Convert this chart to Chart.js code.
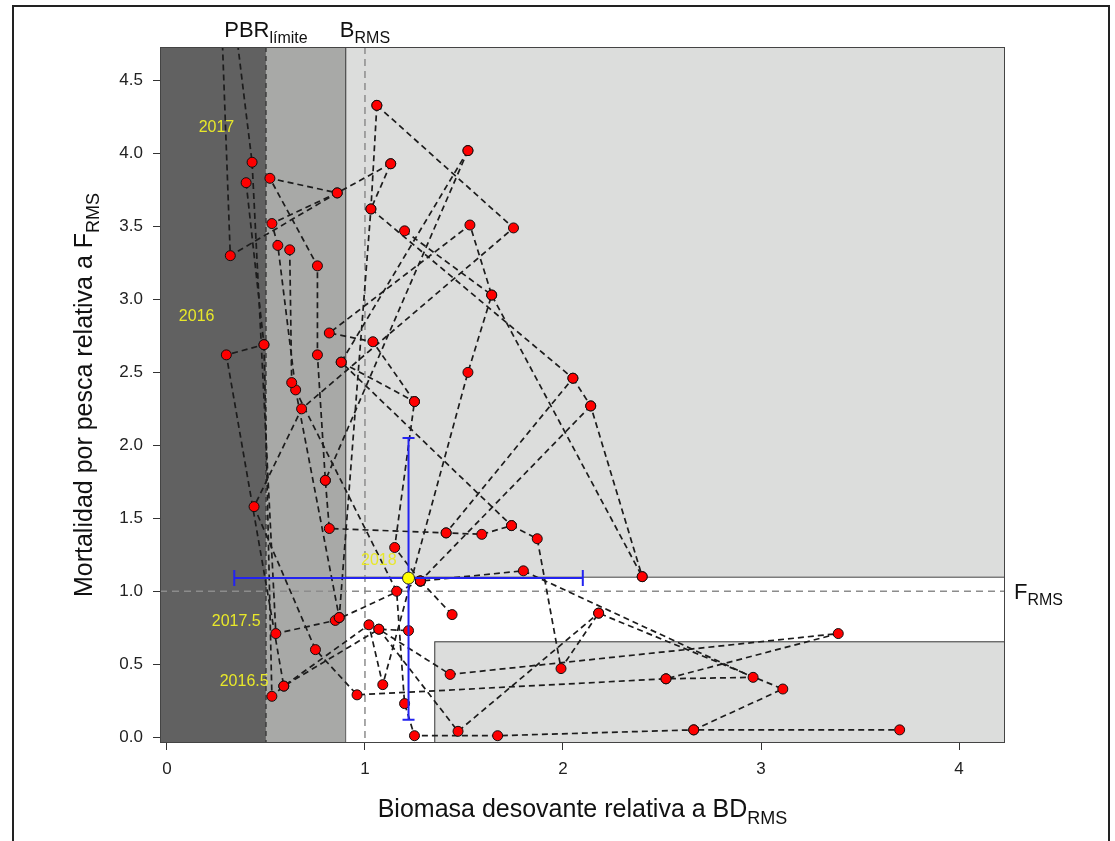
<!DOCTYPE html>
<html>
<head>
<meta charset="utf-8">
<script src="https://cdn.jsdelivr.net/npm/chart.js@4.4.1/dist/chart.umd.min.js"></script>
<style>
  body{margin:0;background:#fff;}
  canvas{display:block;}
</style>
</head>
<body>
<canvas id="my_canvas" width="1115" height="841"></canvas>
<script>
// trajectories, null = break between pieces of the path
const pathX = [0.26,0.32,0.86,0.52,0.76,0.76,0.80,0.82,1.41,1.59,1.74,1.87,1.99,2.18,3.11,2.66,3.70, null,
  0.29,0.43,0.55,0.85,1.28, null,
  0.40,0.49,0.30,0.59,1.02,1.09,1.52,1.64,2.40, null,
  1.13,0.86,0.53,0.56,0.65,0.87, null,
  1.06,1.03,0.87, null,
  1.06,1.75,0.68,0.44,0.75,0.96,2.52,3.39,1.43,1.07,1.47,2.18, null,
  1.52,0.88,1.74, null,
  1.20,1.64,1.53,0.82,1.04,1.25,1.15,1.28, null,
  1.13,1.03,2.05,1.41, null,
  2.05,2.14,2.40, null,
  0.62,0.63,1.16,1.20,1.25,1.67,2.66, null,
  0.49,0.53,0.59,1.07,1.22, null,
  1.44,1.28,1.80,2.96,2.52, null,
  1.52,0.80, null,
  0.88,1.25, null,
  2.14,1.28];
const pathY = [5.50,3.30,3.73,3.83,3.23,2.62,1.76,1.43,1.40,1.39,1.45,1.36,0.47,0.85,0.33,0.05,0.05, null,
  5.50,3.94,0.71,0.80,1.07, null,
  3.80,2.69,2.62,0.35,0.77,0.36,2.50,3.03,1.10, null,
  3.93,3.73,3.52,3.37,2.38,0.82, null,
  4.33,3.62,0.82, null,
  4.33,3.49,2.25,1.58,0.60,0.29,0.40,0.71,0.43,0.74,0.04,0.85, null,
  4.02,2.57,1.45, null,
  3.47,3.03,3.51,2.77,2.71,2.30,1.30,1.07, null,
  3.93,3.62,2.46,1.40, null,
  2.46,2.27,1.10, null,
  3.34,2.43,1.00,0.23,0.01,0.01,0.05, null,
  2.69,0.28,0.35,0.74,0.73, null,
  0.84,1.07,1.14,0.41,0.40, null,
  4.02,1.76, null,
  2.57,2.30, null,
  2.27,1.07];

// last estimate with its intervals
const estX = [1.22];
const estY = [1.09];
const estXlim = [0.34, 2.10];
const estYlim = [0.12, 2.05];

// reference points
const pbrLimit = 0.5;
const bRms = 1.0;
const fRms = 1.0;
const zoneB = 0.9;
const zoneF = 1.1;
const lowBoxB = 1.35;
const lowBoxF = 0.657;

const xTicks = [0,1,2,3,4];
const yTicks = [0,0.5,1,1.5,2,2.5,3,3.5,4,4.5];

const yearLabels = ['2017','2016','2018','2017.5','2016.5'];
const yearX = [0.25,0.15,1.07,0.35,0.39];
const yearY = [4.18,2.88,1.21,0.79,0.38];

const FONT = '"Liberation Sans", Arial, sans-serif';

function subText(ctx, main, sub, x, y, size, subSize, align){
  ctx.font = size + 'px ' + FONT;
  const w1 = ctx.measureText(main).width;
  ctx.font = subSize + 'px ' + FONT;
  const w2 = ctx.measureText(sub).width;
  let x0 = x;
  if(align === 'center') x0 = x - (w1 + w2) / 2;
  ctx.textAlign = 'left';
  ctx.textBaseline = 'alphabetic';
  ctx.font = size + 'px ' + FONT;
  ctx.fillText(main, x0, y);
  ctx.font = subSize + 'px ' + FONT;
  ctx.fillText(sub, x0 + w1, y + size * 0.28);
}

const zonePlugin = {
  id:'zones',
  beforeDraw(chart){
    const ctx = chart.ctx;
    ctx.save();
    ctx.fillStyle = '#fff';
    ctx.fillRect(0,0,chart.width,chart.height);
    ctx.strokeStyle = '#222';
    ctx.lineWidth = 2;
    ctx.strokeRect(13,6,1096,860);
    ctx.restore();
  },
  beforeDatasetsDraw(chart){
    const ctx = chart.ctx;
    const a = chart.chartArea;
    const xs = chart.scales.x, ys = chart.scales.y;
    const px = v => xs.getPixelForValue(v);
    const py = v => ys.getPixelForValue(v);
    ctx.save();
    ctx.beginPath();
    ctx.rect(a.left, a.top, a.right - a.left, a.bottom - a.top);
    ctx.clip();
    ctx.fillStyle = '#fff';
    ctx.fillRect(a.left, a.top, a.right - a.left, a.bottom - a.top);
    // dark zone
    ctx.fillStyle = '#616161';
    ctx.fillRect(a.left, a.top, px(pbrLimit) - a.left, a.bottom - a.top);
    // medium zone
    ctx.fillStyle = '#a8a9a7';
    ctx.fillRect(px(pbrLimit), a.top, px(zoneB) - px(pbrLimit), a.bottom - a.top);
    // light zones
    ctx.fillStyle = '#dcdddc';
    ctx.strokeStyle = '#3a3a3a';
    ctx.lineWidth = 1;
    ctx.fillRect(px(zoneB), a.top, a.right - px(zoneB), py(zoneF) - a.top);
    ctx.strokeRect(px(zoneB)+0.5, a.top-10, a.right - px(zoneB) + 20, py(zoneF) - a.top + 10.5);
    ctx.fillRect(px(lowBoxB), py(lowBoxF), a.right - px(lowBoxB), a.bottom - py(lowBoxF));
    ctx.strokeRect(px(lowBoxB)+0.5, py(lowBoxF)+0.5, a.right - px(lowBoxB) + 20, a.bottom - py(lowBoxF) + 10);
    ctx.beginPath();
    ctx.moveTo(px(zoneB)+0.5, a.top); ctx.lineTo(px(zoneB)+0.5, a.bottom);
    ctx.strokeStyle = '#555';
    ctx.stroke();
    // reference dashed lines
    ctx.lineWidth = 1.5;
    ctx.setLineDash([7,5]);
    ctx.strokeStyle = '#8c8c8c';
    ctx.beginPath();
    ctx.moveTo(px(bRms), a.top); ctx.lineTo(px(bRms), a.bottom);
    ctx.moveTo(a.left, py(fRms)); ctx.lineTo(a.right, py(fRms));
    ctx.stroke();
    ctx.strokeStyle = '#3c3c3c';
    ctx.setLineDash([5,4]);
    ctx.beginPath();
    ctx.moveTo(px(pbrLimit), a.top); ctx.lineTo(px(pbrLimit), a.bottom);
    ctx.stroke();
    ctx.restore();
  },
  afterDatasetsDraw(chart){
    const ctx = chart.ctx;
    const a = chart.chartArea;
    const xs = chart.scales.x, ys = chart.scales.y;
    const px = v => xs.getPixelForValue(v);
    const py = v => ys.getPixelForValue(v);
    ctx.save();
    // error bars
    ctx.strokeStyle = '#2323f0';
    ctx.lineWidth = 2;
    const cx = px(estX[0]), cy = py(estY[0]);
    ctx.beginPath();
    ctx.moveTo(px(estXlim[0]), cy); ctx.lineTo(px(estXlim[1]), cy);
    ctx.moveTo(px(estXlim[0]), cy-8); ctx.lineTo(px(estXlim[0]), cy+8);
    ctx.moveTo(px(estXlim[1]), cy-8); ctx.lineTo(px(estXlim[1]), cy+8);
    ctx.moveTo(cx, py(estYlim[0])); ctx.lineTo(cx, py(estYlim[1]));
    ctx.moveTo(cx-6, py(estYlim[0])); ctx.lineTo(cx+6, py(estYlim[0]));
    ctx.moveTo(cx-6, py(estYlim[1])); ctx.lineTo(cx+6, py(estYlim[1]));
    ctx.stroke();
    // estimate point
    ctx.beginPath();
    ctx.arc(cx, cy, 6, 0, Math.PI*2);
    ctx.fillStyle = '#ffff00';
    ctx.fill();
    ctx.strokeStyle = '#222';
    ctx.lineWidth = 1;
    ctx.stroke();
    // year labels
    ctx.fillStyle = '#e8e82a';
    ctx.font = '16px ' + FONT;
    ctx.textAlign = 'center';
    ctx.textBaseline = 'middle';
    yearLabels.forEach((t,i) => ctx.fillText(t, px(yearX[i]), py(yearY[i])));
    // plot box
    ctx.strokeStyle = '#444';
    ctx.lineWidth = 1;
    ctx.strokeRect(a.left+0.5, a.top+0.5, a.right-a.left-1, a.bottom-a.top-1);
    ctx.restore();
  },
  afterDraw(chart){
    const ctx = chart.ctx;
    const a = chart.chartArea;
    const xs = chart.scales.x, ys = chart.scales.y;
    ctx.save();
    ctx.fillStyle = '#111';
    subText(ctx, 'PBR', 'límite', xs.getPixelForValue(pbrLimit), 37, 22, 16, 'center');
    subText(ctx, 'B', 'RMS', xs.getPixelForValue(bRms), 37, 22, 16, 'center');
    subText(ctx, 'F', 'RMS', a.right + 9, ys.getPixelForValue(fRms) + 8, 22, 16, 'left');
    subText(ctx, 'Biomasa desovante relativa a BD', 'RMS', (a.left + a.right)/2, 817, 25, 18, 'center');
    ctx.translate(92, (a.top + a.bottom)/2);
    ctx.rotate(-Math.PI/2);
    subText(ctx, 'Mortalidad por pesca relativa a F', 'RMS', 0, 0, 25, 18, 'center');
    ctx.restore();
  }
};

function buildChains(xs, ys){
  const chains = [];
  let cur = [];
  for(let i = 0; i < xs.length; i++){
    if(xs[i] === null){
      chains.push(cur);
      cur = [];
    } else {
      cur.push({x:xs[i], y:ys[i]});
    }
  }
  if(cur.length) chains.push(cur);
  return chains;
}

const chains = buildChains(pathX, pathY);
const the_datasets = chains.map(c => ({
  data:c,
  showLine:true,
  borderColor:'#1c1c1c',
  borderWidth:1.7,
  borderDash:[6,4],
  pointRadius:0,
  order:2
}));
the_datasets.push({
  data:[].concat(...chains),
  showLine:false,
  pointRadius:5,
  pointBackgroundColor:'#ff0000',
  pointBorderColor:'#111',
  pointBorderWidth:1,
  order:1
});

const canvas_element = document.getElementById('my_canvas').getContext('2d');

const the_chart = new Chart(canvas_element,{
  type:'scatter',
  data:{ datasets:the_datasets },
  options:{
    responsive:false,
    animation:false,
    layout:{ padding:{ top:47, right:110, left:0, bottom:0 } },
    plugins:{ legend:{display:false}, tooltip:{enabled:false} },
    scales:{
      x:{
        type:'linear',
        min:-0.035,
        max:4.232,
        afterBuildTicks:s => { s.ticks = xTicks.map(v => ({value:v})); },
        afterFit:s => { s.height = 98; },
        ticks:{ color:'#222', padding:9, font:{family:FONT, size:17}, callback:v => String(v) },
        grid:{ display:true, drawOnChartArea:false, drawTicks:true, tickLength:7, color:'#333' },
        border:{ display:false }
      },
      y:{
        type:'linear',
        min:-0.04,
        max:4.73,
        afterBuildTicks:s => { s.ticks = yTicks.map(v => ({value:v})); },
        afterFit:s => { s.width = 160; },
        ticks:{ color:'#222', padding:10, font:{family:FONT, size:17}, callback:v => Number(v).toFixed(1) },
        grid:{ display:true, drawOnChartArea:false, drawTicks:true, tickLength:7, color:'#333' },
        border:{ display:false }
      }
    }
  },
  plugins:[zonePlugin]
});
</script>
</body>
</html>
